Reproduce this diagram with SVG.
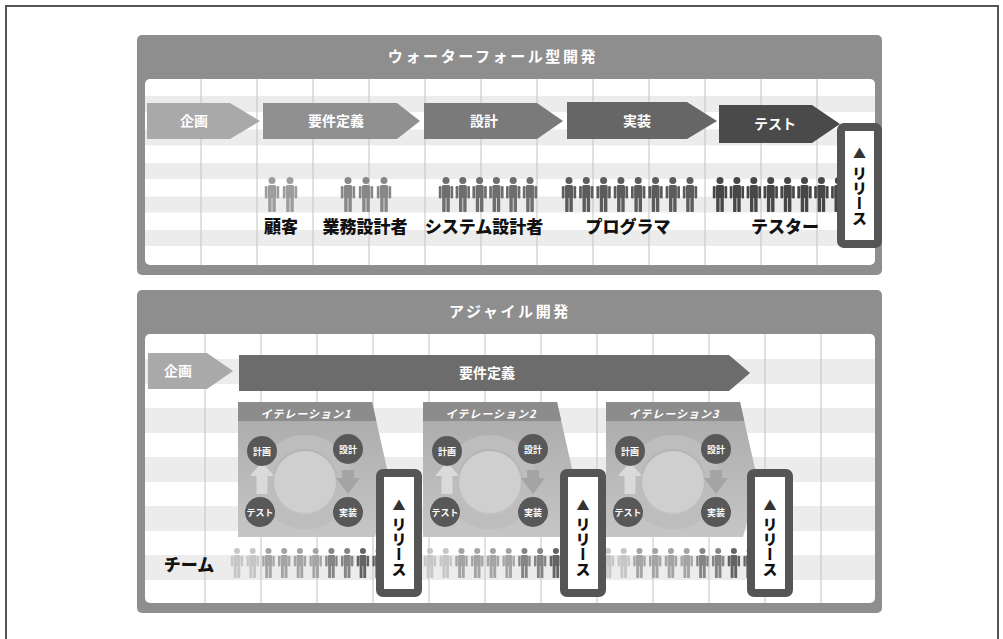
<svg xmlns="http://www.w3.org/2000/svg" xmlns:xlink="http://www.w3.org/1999/xlink" width="1003" height="639" viewBox="0 0 1003 639">
  <style>
    text { font-family: "Noto Sans CJK JP", "Noto Sans", sans-serif; font-weight: bold; }
    .title { fill: #ffffff; font-size: 15px; letter-spacing: 2.6px; text-anchor: middle; }
    .panel { fill: #8e8e8e; }
    .inner { fill: #ffffff; }
    .stripe { fill: #ececec; }
    .grid { stroke: #c2c2c2; stroke-width: 1; }
    .phase { fill: #ffffff; font-size: 14px; text-anchor: middle; }
    .role { fill: #111111; font-size: 17px; font-weight: 900; text-anchor: middle; }
    .rel-box { fill: #ffffff; stroke: #555555; stroke-width: 8; }
    .rel-tri { fill: #333333; font-size: 13px; text-anchor: middle; }
    .rel-txt { fill: #111111; font-size: 15px; font-weight: 900; writing-mode: vertical-rl; text-anchor: start; }
    .it-head { fill: #8c8c8c; }
    .it-label { fill: #ffffff; font-size: 11px; font-style: italic; letter-spacing: 1px; text-anchor: middle; }
    .step { fill: #585858; }
    .step-txt { fill: #ffffff; font-size: 9px; text-anchor: middle; }
    .ring { fill: none; stroke: #bdbdbd; stroke-width: 14; }
    .ring-core { fill: #cfcfcf; }
  </style>
  <defs>
    <!-- person pictogram, centred on x=0, 35 px tall -->
    <g id="person">
      <circle cx="0" cy="3.5" r="3.5"/>
      <rect x="-4.1" y="8" width="8.2" height="13" rx="1.6"/>
      <rect x="-7.2" y="9" width="2.7" height="12.5" rx="1.2"/>
      <rect x="4.5" y="9" width="2.7" height="12.5" rx="1.2"/>
      <rect x="-3.8" y="19" width="3.4" height="16" rx="0.8"/>
      <rect x="0.4" y="19" width="3.4" height="16" rx="0.8"/>
    </g>
    <linearGradient id="itBody" x1="0" y1="0" x2="0" y2="1">
      <stop offset="0" stop-color="#a9a9a9"/>
      <stop offset="1" stop-color="#c6c6c6"/>
    </linearGradient>
    <!-- one iteration card, left edge at x=0 -->
    <g id="iteration">
      <polygon points="0,402 134,402 152,482 137,537 0,537" fill="url(#itBody)"/>
      <polygon class="it-head" points="0,402 134,402 138.3,421 0,421"/>
      <circle class="ring" cx="67" cy="482" r="40"/>
      <circle class="ring-core" cx="67" cy="482" r="31"/>
      <polygon points="24,462 36,476 29.5,476 29.5,494 18.5,494 18.5,476 12,476" fill="#dadada"/>
      <polygon points="110,494 98,478 104,478 104,470 116,470 116,478 122,478" fill="#a4a4a4"/>
      <circle class="step" cx="24" cy="451" r="15"/>
      <circle class="step" cx="110" cy="449" r="15"/>
      <circle class="step" cx="22" cy="512" r="15"/>
      <circle class="step" cx="110" cy="512" r="15"/>
      <text class="step-txt" x="24" y="454.5">計画</text>
      <text class="step-txt" x="110" y="452.5">設計</text>
      <text class="step-txt" x="22" y="515.5">テスト</text>
      <text class="step-txt" x="110" y="515.5">実装</text>
    </g>
  </defs>

  <rect width="1003" height="639" fill="#ffffff"/>
  <!-- frame -->
  <path d="M6,645 V6 H998 V645" fill="none" stroke="#555555" stroke-width="2"/>

  <!-- ===== Waterfall panel ===== -->
  <g id="waterfall-panel">
    <rect class="panel" x="137" y="35" width="745" height="240" rx="5"/>
    <text class="title" x="493" y="62">ウォーターフォール型開発</text>
    <rect class="inner" x="145" y="79" width="730" height="186" rx="5"/>
    <rect class="stripe" x="145" y="96" width="730" height="16"/>
    <rect class="stripe" x="145" y="129.5" width="730" height="16"/>
    <rect class="stripe" x="145" y="163" width="730" height="16"/>
    <rect class="stripe" x="145" y="196.5" width="730" height="16"/>
    <rect class="stripe" x="145" y="230" width="730" height="16"/>
    <g class="grid">
      <line x1="201" y1="79" x2="201" y2="265"/>
      <line x1="257" y1="79" x2="257" y2="265"/>
      <line x1="313" y1="79" x2="313" y2="265"/>
      <line x1="369" y1="79" x2="369" y2="265"/>
      <line x1="425" y1="79" x2="425" y2="265"/>
      <line x1="481" y1="79" x2="481" y2="265"/>
      <line x1="537" y1="79" x2="537" y2="265"/>
      <line x1="593" y1="79" x2="593" y2="265"/>
      <line x1="649" y1="79" x2="649" y2="265"/>
      <line x1="705" y1="79" x2="705" y2="265"/>
      <line x1="761" y1="79" x2="761" y2="265"/>
      <line x1="817" y1="79" x2="817" y2="265"/>
    </g>
  </g>

  <g id="wf-planning">
    <polygon points="147,103 230,103 260,121 230,139 147,139" fill="#a9a9a9"/>
    <text class="phase" x="194" y="126">企画</text>
  </g>
  <g id="wf-requirements">
    <polygon points="263,103 397,103 420,121 397,139 263,139" fill="#909090"/>
    <text class="phase" x="336" y="126">要件定義</text>
  </g>
  <g id="wf-design">
    <polygon points="424,103 537,103 563,121 537,139 424,139" fill="#7a7a7a"/>
    <text class="phase" x="484" y="126">設計</text>
  </g>
  <g id="wf-implementation">
    <polygon points="567,102 687,102 717,121 687,139 567,139" fill="#666666"/>
    <text class="phase" x="637" y="126">実装</text>
  </g>
  <g id="wf-test">
    <polygon points="719,105 812,105 840,124 812,143 719,143" fill="#4a4a4a"/>
    <text class="phase" x="775" y="129">テスト</text>
  </g>

  <g id="wf-customers" fill="#9d9d9d">
    <use xlink:href="#person" x="272" y="177"/>
    <use xlink:href="#person" x="290" y="177"/>
    <text class="role" x="281" y="233">顧客</text>
  </g>
  <g id="wf-analysts" fill="#888888">
    <use xlink:href="#person" x="348" y="177"/>
    <use xlink:href="#person" x="366" y="177"/>
    <use xlink:href="#person" x="384" y="177"/>
    <text class="role" x="365" y="233">業務設計者</text>
  </g>
  <g id="wf-designers" fill="#6e6e6e">
    <use xlink:href="#person" x="446" y="177"/>
    <use xlink:href="#person" x="462.8" y="177"/>
    <use xlink:href="#person" x="479.6" y="177"/>
    <use xlink:href="#person" x="496.4" y="177"/>
    <use xlink:href="#person" x="513.2" y="177"/>
    <use xlink:href="#person" x="530" y="177"/>
    <text class="role" x="484" y="233">システム設計者</text>
  </g>
  <g id="wf-programmers" fill="#5c5c5c">
    <use xlink:href="#person" x="569" y="177"/>
    <use xlink:href="#person" x="586.3" y="177"/>
    <use xlink:href="#person" x="603.6" y="177"/>
    <use xlink:href="#person" x="620.9" y="177"/>
    <use xlink:href="#person" x="638.2" y="177"/>
    <use xlink:href="#person" x="655.5" y="177"/>
    <use xlink:href="#person" x="672.8" y="177"/>
    <use xlink:href="#person" x="690" y="177"/>
    <text class="role" x="628" y="233">プログラマ</text>
  </g>
  <g id="wf-testers" fill="#474747">
    <use xlink:href="#person" x="720" y="177"/>
    <use xlink:href="#person" x="736.9" y="177"/>
    <use xlink:href="#person" x="753.8" y="177"/>
    <use xlink:href="#person" x="770.7" y="177"/>
    <use xlink:href="#person" x="787.6" y="177"/>
    <use xlink:href="#person" x="804.5" y="177"/>
    <use xlink:href="#person" x="821.4" y="177"/>
    <use xlink:href="#person" x="838.3" y="177"/>
    <text class="role" x="785" y="233">テスター</text>
  </g>
  <g id="wf-release">
    <rect class="rel-box" x="841" y="127" width="37" height="117" rx="3"/>
    <text class="rel-tri" x="859.5" y="158">▲</text>
    <text class="rel-txt" x="859.5" y="166">リリース</text>
  </g>

  <!-- ===== Agile panel ===== -->
  <g id="agile-panel">
    <rect class="panel" x="137" y="290" width="745" height="323" rx="5"/>
    <text class="title" x="510" y="317">アジャイル開発</text>
    <rect class="inner" x="145" y="334" width="730" height="269" rx="5"/>
    <rect class="stripe" x="145" y="359" width="730" height="25"/>
    <rect class="stripe" x="145" y="408" width="730" height="25"/>
    <rect class="stripe" x="145" y="457" width="730" height="25"/>
    <rect class="stripe" x="145" y="506" width="730" height="25"/>
    <rect class="stripe" x="145" y="555" width="730" height="25"/>
    <g class="grid">
      <line x1="205" y1="334" x2="205" y2="603"/>
      <line x1="261" y1="334" x2="261" y2="603"/>
      <line x1="317" y1="334" x2="317" y2="603"/>
      <line x1="373" y1="334" x2="373" y2="603"/>
      <line x1="429" y1="334" x2="429" y2="603"/>
      <line x1="485" y1="334" x2="485" y2="603"/>
      <line x1="541" y1="334" x2="541" y2="603"/>
      <line x1="597" y1="334" x2="597" y2="603"/>
      <line x1="653" y1="334" x2="653" y2="603"/>
      <line x1="709" y1="334" x2="709" y2="603"/>
      <line x1="765" y1="334" x2="765" y2="603"/>
      <line x1="821" y1="334" x2="821" y2="603"/>
    </g>
  </g>

  <g id="ag-planning">
    <polygon points="148,353 207,353 233,371 207,389 148,389" fill="#a9a9a9"/>
    <text class="phase" x="178" y="376">企画</text>
  </g>
  <g id="ag-requirements">
    <polygon points="239,355 729,355 750,373 729,391 239,391" fill="#6c6c6c"/>
    <text class="phase" x="487" y="378">要件定義</text>
  </g>

  <g id="iteration-1">
    <use xlink:href="#iteration" x="238"/>
    <text class="it-label" x="306" y="418">イテレーション1</text>
  </g>
  <g id="iteration-2">
    <use xlink:href="#iteration" x="423"/>
    <text class="it-label" x="491" y="418">イテレーション2</text>
  </g>
  <g id="iteration-3">
    <use xlink:href="#iteration" x="606"/>
    <text class="it-label" x="674" y="418">イテレーション3</text>
  </g>

  <text class="role" x="189" y="571">チーム</text>
  <g id="team-1" transform="translate(237 548) scale(0.86)">
    <use xlink:href="#person" x="0" fill="#c6c6c6"/>
    <use xlink:href="#person" x="18.3" fill="#c6c6c6"/>
    <use xlink:href="#person" x="36.6" fill="#a4a4a4"/>
    <use xlink:href="#person" x="54.9" fill="#a4a4a4"/>
    <use xlink:href="#person" x="73.2" fill="#a4a4a4"/>
    <use xlink:href="#person" x="91.5" fill="#a4a4a4"/>
    <use xlink:href="#person" x="109.8" fill="#858585"/>
    <use xlink:href="#person" x="128.1" fill="#858585"/>
    <use xlink:href="#person" x="146.4" fill="#636363"/>
    <use xlink:href="#person" x="164.7" fill="#636363"/>
  </g>
  <g id="team-2" transform="translate(430 548) scale(0.86)">
    <use xlink:href="#person" x="0" fill="#c6c6c6"/>
    <use xlink:href="#person" x="18.3" fill="#c6c6c6"/>
    <use xlink:href="#person" x="36.6" fill="#a4a4a4"/>
    <use xlink:href="#person" x="54.9" fill="#a4a4a4"/>
    <use xlink:href="#person" x="73.2" fill="#a4a4a4"/>
    <use xlink:href="#person" x="91.5" fill="#a4a4a4"/>
    <use xlink:href="#person" x="109.8" fill="#858585"/>
    <use xlink:href="#person" x="128.1" fill="#858585"/>
    <use xlink:href="#person" x="146.4" fill="#636363"/>
    <use xlink:href="#person" x="164.7" fill="#636363"/>
  </g>
  <g id="team-3" transform="translate(608 548) scale(0.86)">
    <use xlink:href="#person" x="0" fill="#c6c6c6"/>
    <use xlink:href="#person" x="18.3" fill="#c6c6c6"/>
    <use xlink:href="#person" x="36.6" fill="#a4a4a4"/>
    <use xlink:href="#person" x="54.9" fill="#a4a4a4"/>
    <use xlink:href="#person" x="73.2" fill="#a4a4a4"/>
    <use xlink:href="#person" x="91.5" fill="#a4a4a4"/>
    <use xlink:href="#person" x="109.8" fill="#858585"/>
    <use xlink:href="#person" x="128.1" fill="#858585"/>
    <use xlink:href="#person" x="146.4" fill="#636363"/>
    <use xlink:href="#person" x="164.7" fill="#636363"/>
  </g>

  <g id="ag-release-1">
    <rect class="rel-box" x="380" y="473" width="38" height="120" rx="3"/>
    <text class="rel-tri" x="399" y="510">▲</text>
    <text class="rel-txt" x="399" y="517">リリース</text>
  </g>
  <g id="ag-release-2">
    <rect class="rel-box" x="564" y="473" width="38" height="120" rx="3"/>
    <text class="rel-tri" x="583" y="510">▲</text>
    <text class="rel-txt" x="583" y="517">リリース</text>
  </g>
  <g id="ag-release-3">
    <rect class="rel-box" x="751" y="473" width="38" height="120" rx="3"/>
    <text class="rel-tri" x="770" y="510">▲</text>
    <text class="rel-txt" x="770" y="517">リリース</text>
  </g>
</svg>
